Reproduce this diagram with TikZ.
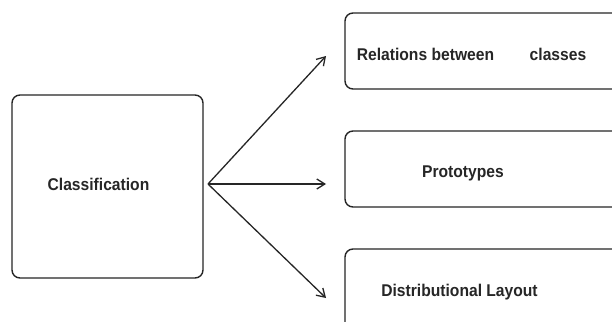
\documentclass[tikz,border=0pt]{standalone}
\usepackage{fontspec}
\setmainfont{Liberation Sans}[FakeStretch=0.92]
\usetikzlibrary{arrows.meta}
\definecolor{ink}{HTML}{262626}
\tikzset{
  panel/.style={draw=ink, line width=1.4pt, rounded corners=8pt, inner sep=0pt},
  caption/.style={text=ink, font=\fontsize{17}{20}\selectfont\bfseries, inner sep=0pt, anchor=center},
  branch/.style={draw=ink, line width=1.3pt, -{Straight Barb[length=8pt,width=10pt,line width=1.3pt]}}
}
\begin{document}
\begin{tikzpicture}[x=1pt,y=-1pt]
  \clip (0,0) rectangle (612,321);
  \fill[white] (0,0) rectangle (612,321);

  % source box
  \node[panel, minimum width=191pt, minimum height=183pt] (cls) at (107.5,186.5) {};
  \node[caption] (clsT) at (98.5,184) {Classification};

  % target boxes, running off the right edge
  \node[panel, minimum width=295pt, minimum height=76pt] (rel) at (492.5,51) {};
  \node[caption] (relA) at (425.5,54) {Relations between};
  \node[caption] (relB) at (558,54) {classes};

  \node[panel, minimum width=295pt, minimum height=76pt] (pro) at (492.5,169) {};
  \node[caption] (proT) at (463,173) {Prototypes};

  \node[panel, minimum width=295pt, minimum height=91pt] (dis) at (492.5,294.5) {};
  \node[caption] (disT) at (459.5,292) {Distributional Layout};

  % fan of arrows
  \coordinate (src) at (208,184);
  \coordinate (toRel) at (326,56);
  \coordinate (toPro) at (326,184);
  \coordinate (toDis) at (326,298);
  \draw[branch] (src) -- (toRel);
  \draw[branch] (src) -- (toPro);
  \draw[branch] (src) -- (toDis);
\end{tikzpicture}
\end{document}
